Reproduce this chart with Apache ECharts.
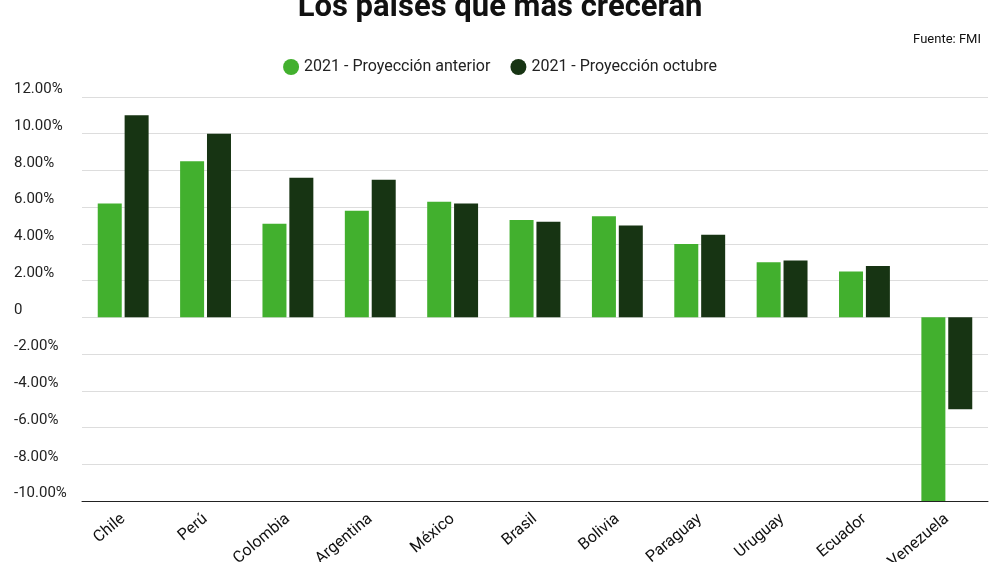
<!DOCTYPE html>
<html><head><meta charset="utf-8">
<script src="https://cdn.jsdelivr.net/npm/echarts@6/dist/echarts.min.js"></script>
<style>html,body{margin:0;padding:0;background:#fff}#chart{width:1000px;height:562px}</style>
</head><body><div id="chart"></div>
<script>
// Datos
const paises = ['Chile', 'Perú', 'Colombia', 'Argentina', 'México', 'Brasil', 'Bolivia', 'Paraguay', 'Uruguay', 'Ecuador', 'Venezuela'];
const proyAnterior = [6.2, 8.5, 5.1, 5.8, 6.3, 5.3, 5.5, 4.0, 3.0, 2.5, -10.0];
const proyOctubre = [11.0, 10.0, 7.6, 7.5, 6.2, 5.2, 5.0, 4.5, 3.1, 2.8, -5.0];

const chart = echarts.init(document.getElementById('chart'));
chart.setOption({
    animation: false,
    textStyle: { fontFamily: 'Roboto' },
    title: [
        { text: 'Los países que más crecerán', left: 'center', top: -12,
          textStyle: { fontSize: 31, fontWeight: 'bold', color: '#111' } },
        { text: 'Fuente: FMI', right: 14, top: 28,
          textStyle: { fontSize: 13, fontWeight: 'normal', color: '#111' } }
    ],
    legend: {
        top: 54, left: 'center', icon: 'circle', itemWidth: 16, itemHeight: 16, itemGap: 20,
        itemStyle: { borderWidth: 0 },
        textStyle: { fontSize: 16, color: '#222' },
        data: ['2021 - Proyección anterior', '2021 - Proyección octubre']
    },
    grid: { left: 82, right: 12, top: 97, bottom: 61, outerBoundsMode: 'none' },
    xAxis: {
        type: 'category', data: paises,
        axisLine: { onZero: false, lineStyle: { color: '#222' } },
        axisTick: { show: false },
        axisLabel: { rotate: 40, fontSize: 16, color: '#111', margin: 16 }
    },
    yAxis: {
        type: 'value', min: -10, max: 12, interval: 2,
        axisLabel: {
            align: 'left', verticalAlign: 'bottom', margin: 68, fontSize: 15, color: '#222',
            formatter: v => v === 0 ? '0' : v.toFixed(2) + '%'
        },
        splitLine: { lineStyle: { color: '#ddd' } }
    },
    series: [
        { name: '2021 - Proyección anterior', type: 'bar', data: proyAnterior, barWidth: 24, barGap: '12%',
          itemStyle: { color: '#42b02e' } },
        { name: '2021 - Proyección octubre', type: 'bar', data: proyOctubre, barWidth: 24,
          itemStyle: { color: '#173413' } }
    ]
});
</script></body></html>
